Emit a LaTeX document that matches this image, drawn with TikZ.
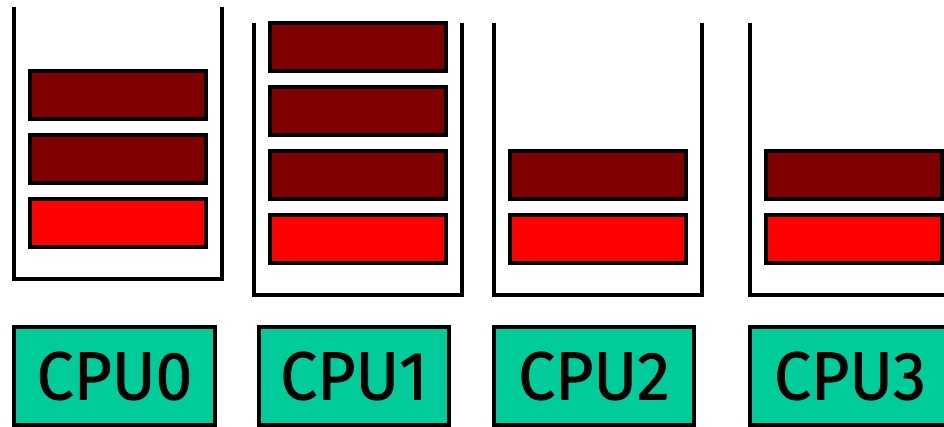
\documentclass[tikz,border=0pt]{standalone}
\usepackage{fontspec}
\newfontfamily\cpufont[FakeBold=1.2]{Fira Sans}
\definecolor{darkbar}{RGB}{128,0,0}
\definecolor{redbar}{RGB}{255,0,0}
\definecolor{cputeal}{RGB}{0,204,153}
\newcommand{\cpulabel}[1]{\scalebox{0.97}[1]{#1}}
\begin{document}
\begin{tikzpicture}[x=1pt,y=-1pt,
  queue/.style={line width=3.5pt, line join=miter},
  job/.style={draw=black, line width=4pt, inner sep=0pt, minimum width=176pt, minimum height=48pt},
  waiting/.style={job, fill=darkbar},
  running/.style={job, fill=redbar},
  cpu/.style={draw=black, fill=cputeal, line width=4pt, inner sep=0pt, minimum height=98pt,
    font=\cpufont\fontsize{68}{68}\selectfont}]
\useasboundingbox (0,0) rectangle (944,427);
\clip (0,0) rectangle (944,427);
% queues
\draw[queue] (14,7) -- (14,279) -- (222,279) -- (222,7);
\draw[queue] (254,23) -- (254,295) -- (462,295) -- (462,23);
\draw[queue] (494,23) -- (494,295) -- (702,295) -- (702,23);
\draw[queue] (750,23) -- (750,295) -- (958,295) -- (958,23);
% queue 0
\node[waiting] (q0a) at (118,95) {};
\node[waiting] (q0b) at (118,159) {};
\node[running] (q0c) at (118,223) {};
% queue 1
\node[waiting] (q1a) at (358,47) {};
\node[waiting] (q1b) at (358,111) {};
\node[waiting] (q1c) at (358,175) {};
\node[running] (q1d) at (358,239) {};
% queue 2
\node[waiting] (q2a) at (598,175) {};
\node[running] (q2b) at (598,239) {};
% queue 3
\node[waiting] (q3a) at (854,175) {};
\node[running] (q3b) at (854,239) {};
% cpus
\node[cpu, minimum width=201pt] (cpu0) at (114.5,376) {\cpulabel{CPU0}};
\node[cpu, minimum width=190pt] (cpu1) at (354,376) {\cpulabel{CPU1}};
\node[cpu, minimum width=200pt] (cpu2) at (594,376) {\cpulabel{CPU2}};
\node[cpu, minimum width=200pt] (cpu3) at (850,376) {\cpulabel{CPU3}};
\end{tikzpicture}
\end{document}
